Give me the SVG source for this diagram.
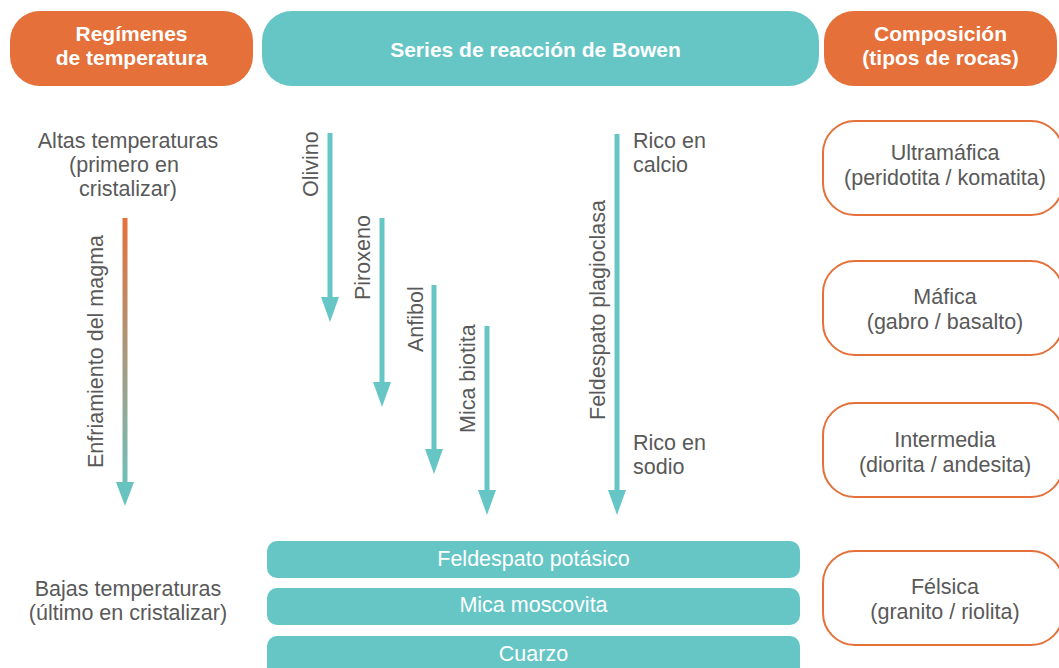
<svg xmlns="http://www.w3.org/2000/svg" width="1059" height="668" viewBox="0 0 1059 668">
<style>
.hdrO{fill:#E5703A}
.hdrT{fill:#66C6C5}
.ht{font-family:"Liberation Sans",Arial,sans-serif;font-size:21px;font-weight:bold;fill:#fff;text-anchor:middle}
.t{font-family:"Liberation Sans",Arial,sans-serif;font-size:21.5px;fill:#595959}
.c{text-anchor:middle}
.bt{font-family:"Liberation Sans",Arial,sans-serif;font-size:21.5px;fill:#fff;text-anchor:middle}
.rock{fill:#fff;stroke:#E5703A;stroke-width:2}
.bar{fill:#66C6C5}
.arr{stroke:#66C6C5;stroke-width:5;fill:none;marker-end:url(#ah)}
</style>
<defs>
<marker id="ah" markerUnits="userSpaceOnUse" markerWidth="25" markerHeight="18" refX="0" refY="9" orient="auto" viewBox="0 0 25 18">
<path d="M0,0 L25,9 L0,18 z" fill="#66C6C5"/>
</marker>
<linearGradient id="grad" gradientUnits="userSpaceOnUse" x1="0" y1="218" x2="0" y2="505">
<stop offset="0" stop-color="#E5703A"/>
<stop offset="1" stop-color="#66C6C5"/>
</linearGradient>
</defs>
<rect width="1059" height="668" fill="#fff"/>
<g id="header-temp">
<rect class="hdrO" x="10" y="11" width="243" height="75" rx="30"/>
<text class="ht" x="131.5" y="41">Regímenes</text>
<text class="ht" x="131.5" y="65">de temperatura</text>
</g>
<g id="header-bowen">
<rect class="hdrT" x="262" y="11" width="557" height="75" rx="30"/>
<text class="ht" x="535.5" y="57">Series de reacción de Bowen</text>
</g>
<g id="header-comp">
<rect class="hdrO" x="824" y="11" width="233" height="75" rx="30"/>
<text class="ht" x="940.5" y="41">Composición</text>
<text class="ht" x="940.5" y="65">(tipos de rocas)</text>
</g>
<g id="high-temp">
<text class="t c" x="128" y="148">Altas temperaturas</text>
<text class="t c" x="124" y="172">(primero en</text>
<text class="t c" x="128" y="196">cristalizar)</text>
</g>
<g id="low-temp">
<text class="t c" x="128" y="596">Bajas temperaturas</text>
<text class="t c" x="128" y="620">(último en cristalizar)</text>
</g>
<g id="cooling">
<rect x="122.5" y="218" width="5" height="266" fill="url(#grad)"/>
<polygon points="116,482 134,482 125,506" fill="#68C3BF"/>
<text class="t" transform="translate(103,468) rotate(-90)">Enfriamiento del magma</text>
</g>
<g id="connectors">
<path class="arr" d="M330,133 V297"/>
<path class="arr" d="M382,218 V382"/>
<path class="arr" d="M434,285 V449"/>
<path class="arr" d="M487,326 V490"/>
<path class="arr" d="M617,134 V490"/>
</g>
<g id="olivino"><text class="t" transform="translate(318,197) rotate(-90)">Olivino</text></g>
<g id="piroxeno"><text class="t" transform="translate(370,300) rotate(-90)">Piroxeno</text></g>
<g id="anfibol"><text class="t" transform="translate(423,352) rotate(-90)">Anfibol</text></g>
<g id="mica-biotita"><text class="t" transform="translate(475,433) rotate(-90)">Mica biotita</text></g>
<g id="plagioclasa">
<text class="t" transform="translate(605,420) rotate(-90)">Feldespato plagioclasa</text>
<text class="t" x="633" y="148">Rico en</text>
<text class="t" x="633" y="172">calcio</text>
<text class="t" x="633" y="450">Rico en</text>
<text class="t" x="633" y="474">sodio</text>
</g>
<g id="feldespato-potasico">
<rect class="bar" x="267" y="541" width="533" height="37" rx="10"/>
<text class="bt" x="533.5" y="566">Feldespato potásico</text>
</g>
<g id="mica-moscovita">
<rect class="bar" x="267" y="588" width="533" height="37" rx="10"/>
<text class="bt" x="533.5" y="612">Mica moscovita</text>
</g>
<g id="cuarzo">
<rect class="bar" x="267" y="636" width="533" height="44" rx="10"/>
<text class="bt" x="533.5" y="661">Cuarzo</text>
</g>
<g id="ultramafica">
<rect class="rock" x="823" y="121" width="240" height="94" rx="32"/>
<text class="t c" x="945" y="160">Ultramáfica</text>
<text class="t c" x="945" y="185">(peridotita / komatita)</text>
</g>
<g id="mafica">
<rect class="rock" x="823" y="261" width="240" height="94" rx="32"/>
<text class="t c" x="945" y="304">Máfica</text>
<text class="t c" x="945" y="329">(gabro / basalto)</text>
</g>
<g id="intermedia">
<rect class="rock" x="823" y="403" width="240" height="94" rx="32"/>
<text class="t c" x="945" y="447">Intermedia</text>
<text class="t c" x="945" y="472">(diorita / andesita)</text>
</g>
<g id="felsica">
<rect class="rock" x="823" y="551" width="240" height="94" rx="32"/>
<text class="t c" x="945" y="594">Félsica</text>
<text class="t c" x="945" y="619">(granito / riolita)</text>
</g>
</svg>
